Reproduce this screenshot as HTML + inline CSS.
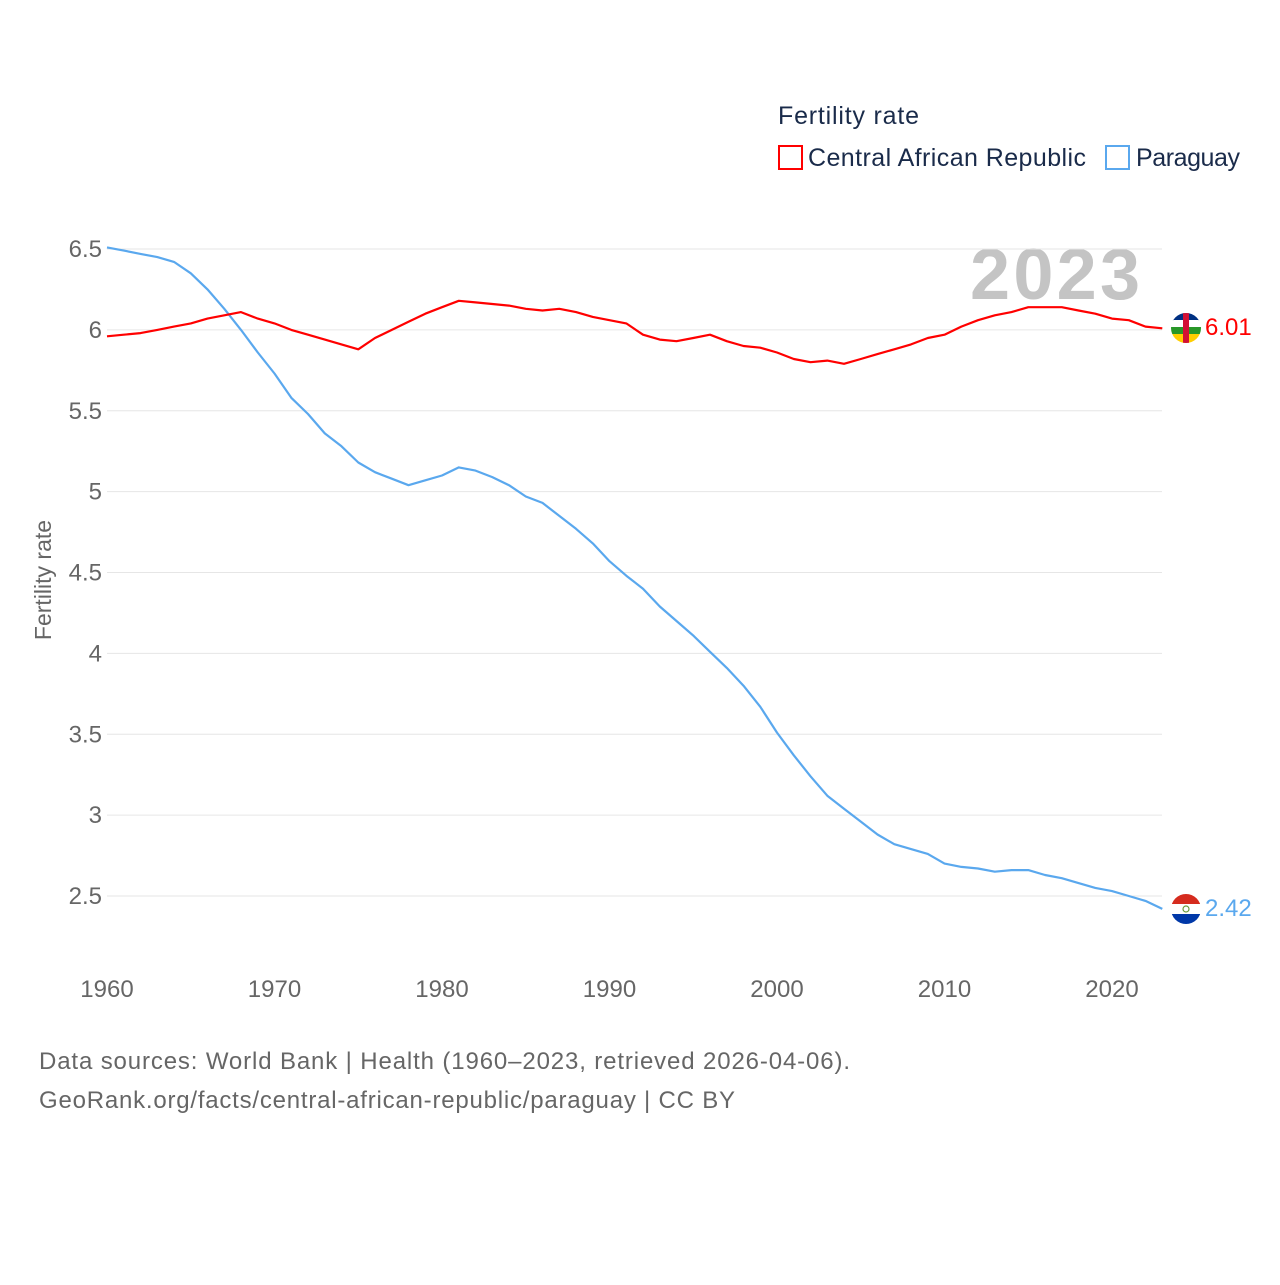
<!DOCTYPE html>
<html><head><meta charset="utf-8"><style>
html,body{margin:0;padding:0;background:#fff;}
body{width:1280px;height:1280px;overflow:hidden;font-family:"Liberation Sans",sans-serif;}
svg text{font-family:"Liberation Sans",sans-serif;}
</style></head><body>
<svg id="chart" width="1280" height="1280" xmlns="http://www.w3.org/2000/svg">
<text x="778" y="124" font-size="25" fill="#1a2b4a" textLength="141">Fertility rate</text>
<g>
<rect x="779" y="146" width="23" height="23" fill="none" stroke="#ff0000" stroke-width="2"/>
<text x="808" y="166" font-size="25" fill="#1a2b4a" textLength="278">Central African Republic</text></g>
<g>
<rect x="1106" y="146" width="23" height="23" fill="none" stroke="#5aa8ee" stroke-width="2"/>
<text x="1136" y="166" font-size="25" fill="#1a2b4a" textLength="104">Paraguay</text></g>
<text x="970" y="299" font-size="72" font-weight="bold" fill="#c4c4c4" textLength="170">2023</text>
<text transform="translate(51,580) rotate(-90)" text-anchor="middle" font-size="23" fill="#666">Fertility rate</text>
<g id="grid"></g><g id="yticks"></g><g id="xticks"></g><g id="lines"></g>
<g>
<clipPath id="c1"><circle cx="1186" cy="328" r="15"/></clipPath>
<g clip-path="url(#c1)"><rect x="1171" y="313" width="30" height="8" fill="#003082"/><rect x="1171" y="320" width="30" height="7" fill="#fff"/><rect x="1171" y="327" width="30" height="7" fill="#289728"/><rect x="1171" y="334" width="30" height="9" fill="#ffce00"/><rect x="1183" y="313" width="6" height="30" fill="#d21034"/></g></g>
<g>
<clipPath id="c2"><circle cx="1186" cy="909" r="15"/></clipPath>
<g clip-path="url(#c2)"><rect x="1171" y="894" width="30" height="10" fill="#d52b1e"/><rect x="1171" y="904" width="30" height="10" fill="#fff"/><rect x="1171" y="914" width="30" height="10" fill="#0038a8"/><circle cx="1186" cy="909" r="3" fill="none" stroke="#6a9a3a" stroke-width="1.2"/></g></g>
<text x="1205" y="335" font-size="24" fill="#ff0000">6.01</text>
<text x="1205" y="916" font-size="24" fill="#5aa8ee">2.42</text>
<text x="39" y="1069" font-size="24" fill="#666" textLength="811">Data sources: World Bank | Health (1960–2023, retrieved 2026-04-06).</text>
<text x="39" y="1108" font-size="24" fill="#666" textLength="696">GeoRank.org/facts/central-african-republic/paraguay | CC BY</text>
</svg>
<script>
const years = Array.from({length:64},(_,i)=>1960+i);
const carValues = [5.96,5.97,5.98,6.00,6.02,6.04,6.07,6.09,6.11,6.07,6.04,6.00,5.97,5.94,5.91,5.88,5.95,6.00,6.05,6.10,6.14,6.18,6.17,6.16,6.15,6.13,6.12,6.13,6.11,6.08,6.06,6.04,5.97,5.94,5.93,5.95,5.97,5.93,5.90,5.89,5.86,5.82,5.80,5.81,5.79,5.82,5.85,5.88,5.91,5.95,5.97,6.02,6.06,6.09,6.11,6.14,6.14,6.14,6.12,6.10,6.07,6.06,6.02,6.01];
const paraguayValues = [6.51,6.49,6.47,6.45,6.42,6.35,6.25,6.13,6.00,5.86,5.73,5.58,5.48,5.36,5.28,5.18,5.12,5.08,5.04,5.07,5.10,5.15,5.13,5.09,5.04,4.97,4.93,4.85,4.77,4.68,4.57,4.48,4.40,4.29,4.20,4.11,4.01,3.91,3.80,3.67,3.51,3.37,3.24,3.12,3.04,2.96,2.88,2.82,2.79,2.76,2.70,2.68,2.67,2.65,2.66,2.66,2.63,2.61,2.58,2.55,2.53,2.50,2.47,2.42];
const yTickValues = [6.5,6,5.5,5,4.5,4,3.5,3,2.5];
const xTickValues = [1960,1970,1980,1990,2000,2010,2020];

const NS="http://www.w3.org/2000/svg";
const xs = y => 107 + (y-1960)*(1112-107)/60;
const ys = v => 249 + (6.5-v)*161.75;
function mk(tag,attrs,parent){const e=document.createElementNS(NS,tag);for(const k in attrs)e.setAttribute(k,attrs[k]);parent.appendChild(e);return e;}
const grid=document.getElementById('grid'),yt=document.getElementById('yticks'),xt=document.getElementById('xticks'),lines=document.getElementById('lines');
yTickValues.forEach(v=>{
  const l=mk('line',{x1:107,x2:1162,y1:ys(v),y2:ys(v),stroke:'#e6e6e6','stroke-width':1},grid);
  
  
  const t=mk('text',{x:102,y:ys(v)+8,'text-anchor':'end','font-size':24,fill:'#666'},yt);
  t.textContent=String(v);
  
  
});
xTickValues.forEach(v=>{
  const t=mk('text',{x:xs(v),y:997,'text-anchor':'middle','font-size':24,fill:'#666'},xt);
  t.textContent=String(v);
  
  
});
function series(vals,color,name){
  const d=vals.map((v,i)=>(i?'L':'M')+xs(years[i]).toFixed(1)+','+ys(v).toFixed(1)).join(' ');
  const p=mk('path',{d:d,fill:'none',stroke:color,'stroke-width':2.2,'stroke-linejoin':'round'},lines);
  
  
}
series(paraguayValues,'#5aa8ee','line-paraguay');
series(carValues,'#ff0000','line-central-african-republic');
</script>
</body></html>
